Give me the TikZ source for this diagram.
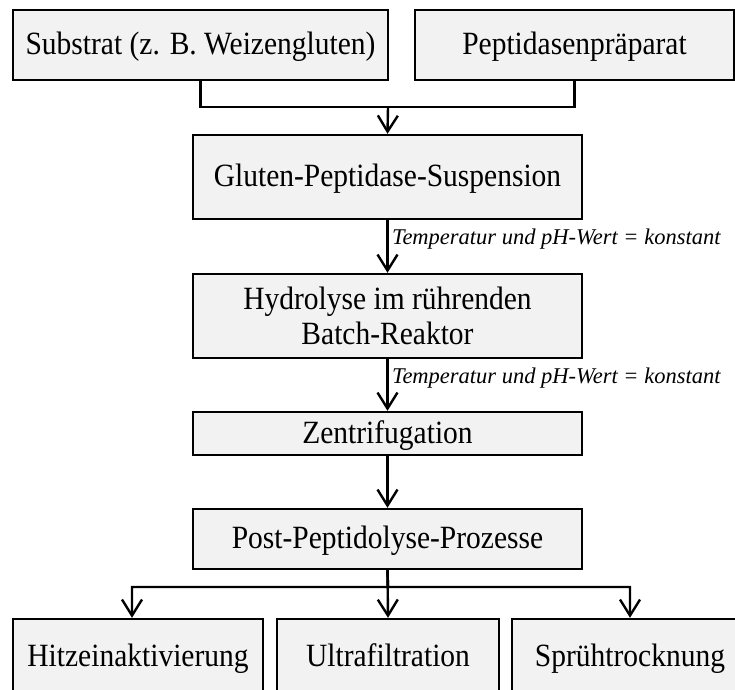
\documentclass[tikz,border=0pt]{standalone}
\usepackage{fontspec}
\setmainfont{Liberation Serif}
\usetikzlibrary{arrows.meta}
\definecolor{boxgray}{HTML}{F2F2F2}
\newcommand{\tx}[1]{\scalebox{1}[1.1]{#1}}

\begin{document}
\begin{tikzpicture}[x=1pt,y=-1pt]
		\tikzstyle{bx} = [draw, line width=2.4pt, fill=boxgray, inner sep=0pt, align=center, font=\fontsize{29.5}{35}\selectfont]
		\tikzstyle{one} = [bx, text height=23.5pt, text depth=4.5pt]
		\tikzstyle{es} = [line width=2.4pt, -{Straight Barb[length=16pt,width=20pt]}]
		\tikzstyle{ln} = [line width=2.4pt]
		\tikzstyle{cond} = [right, font=\fontsize{22.5}{26}\selectfont\itshape]
		\useasboundingbox (0,0) rectangle (735,689);
		\clip (0,0) rectangle (735,689);
		\node [one, minimum width=375pt, minimum height=70pt] (sub) at (200.5,45) {\tx{Substrat (z. B. Weizengluten)}};
		\node [one, minimum width=319pt, minimum height=70pt] (pep) at (574.5,45) {\tx{Peptidasenpräparat}};
		\node [one, minimum width=389pt, minimum height=84pt] (glu) at (387.5,177) {\tx{Gluten-Peptidase-Suspension}};
		\node [bx, minimum width=389pt, minimum height=84pt] (hyd) at (387.5,316) {\tx{Hydrolyse im rührenden}\\\tx{Batch-Reaktor}};
		\node [one, minimum width=389pt, minimum height=43pt] (zen) at (387.5,433.5) {\tx{Zentrifugation}};
		\node [one, minimum width=389pt, minimum height=60pt] (post) at (387.5,539) {\tx{Post-Peptidolyse-Prozesse}};
		\node [one, minimum width=250pt, minimum height=76pt] (hitze) at (138,657) {\tx{Hitzeinaktivierung}};
		\node [one, minimum width=222pt, minimum height=76pt] (ultra) at (388,657) {\tx{Ultrafiltration}};
		\node [one, minimum width=236pt, minimum height=76pt] (spr) at (630,657) {\tx{Sprühtrocknung}};
		\coordinate (j1) at (388,107);
		\coordinate (j2) at (388,587);
		\draw [ln] (sub.south) |- (j1) -| (pep.south);
		\draw [es] (j1) -- (glu.north);
		\draw [es] (glu.south) -- node [cond, pos=0.35] {Temperatur und pH-Wert = konstant} (hyd.north);
		\draw [es] (hyd.south) -- node [cond, pos=0.37] {Temperatur und pH-Wert = konstant} (zen.north);
		\draw [es] (zen.south) -- (post.north);
		\draw [es] (post.south) -- (j2) -| ([xshift=-6pt]hitze.north);
		\draw [es] (post.south) -- (ultra.north);
		\draw [es] (post.south) -- (j2) -| (spr.north);
\end{tikzpicture}
\end{document}
